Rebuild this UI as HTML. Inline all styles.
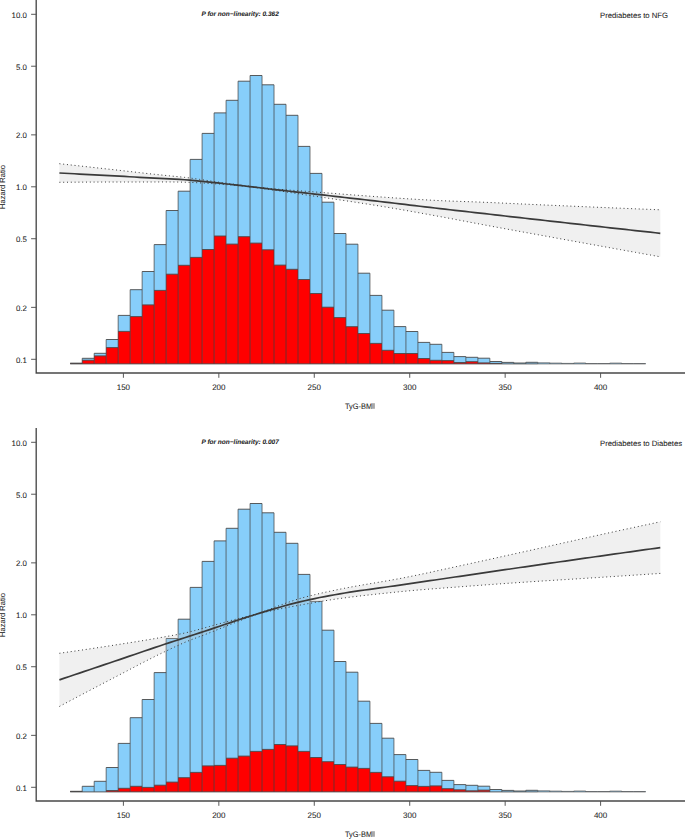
<!DOCTYPE html>
<html><head><meta charset="utf-8"><title>RCS plot</title><style>
html,body{margin:0;padding:0;background:#fff;}
svg{display:block;}
.vs{fill:none;stroke:#3c3c3c;stroke-width:0.7;}
.hs{fill:none;stroke:#4a4a4a;stroke-width:0.9;}
.hs2{fill:none;stroke:#5a5a5a;stroke-width:0.75;}
.bt{stroke:#666;stroke-width:0.7;}
.r{fill:#FF0000;stroke:#505050;stroke-width:0.85;}
.band{fill:#c8c8c8;fill-opacity:0.28;stroke:none;}
.ci{fill:none;stroke:#383838;stroke-width:1;stroke-dasharray:1 2.8;}
.ln{fill:none;stroke:#3a3a3a;stroke-width:1.7;}
.ax{fill:none;stroke:#484848;stroke-width:1.35;}
.tk{stroke:#505050;stroke-width:0.95;}
text{font-family:"Liberation Sans",sans-serif;fill:#1c1c1c;stroke:#1c1c1c;stroke-width:0.06;text-rendering:geometricPrecision;}
.yl{font-size:7.85px;text-anchor:end;}
.xl{font-size:8px;text-anchor:middle;}
.xt{font-size:8px;}
.yt{font-size:7.5px;text-anchor:middle;}
.pt{font-size:6.5px;font-weight:bold;font-style:italic;}
.tt{font-size:7.7px;}
</style></head>
<body><svg width="685" height="839" viewBox="0 0 685 839">
<rect width="685" height="839" fill="#fff"/>
<g transform="translate(0,0)">
<rect x="70.20" y="363.30" width="11.99" height="0.60" fill="#87CEFA"/>
<rect x="82.19" y="358.30" width="11.99" height="5.60" fill="#87CEFA"/>
<rect x="94.18" y="353.30" width="11.99" height="10.60" fill="#87CEFA"/>
<rect x="106.17" y="339.50" width="11.99" height="24.40" fill="#87CEFA"/>
<rect x="118.16" y="315.40" width="11.99" height="48.50" fill="#87CEFA"/>
<rect x="130.15" y="289.70" width="11.99" height="74.20" fill="#87CEFA"/>
<rect x="142.14" y="271.50" width="11.99" height="92.40" fill="#87CEFA"/>
<rect x="154.13" y="244.60" width="11.99" height="119.30" fill="#87CEFA"/>
<rect x="166.12" y="210.50" width="11.99" height="153.40" fill="#87CEFA"/>
<rect x="178.11" y="191.20" width="11.99" height="172.70" fill="#87CEFA"/>
<rect x="190.10" y="159.40" width="11.99" height="204.50" fill="#87CEFA"/>
<rect x="202.09" y="133.40" width="11.99" height="230.50" fill="#87CEFA"/>
<rect x="214.08" y="112.90" width="11.99" height="251.00" fill="#87CEFA"/>
<rect x="226.07" y="100.30" width="11.99" height="263.60" fill="#87CEFA"/>
<rect x="238.06" y="81.20" width="11.99" height="282.70" fill="#87CEFA"/>
<rect x="250.05" y="75.50" width="11.99" height="288.40" fill="#87CEFA"/>
<rect x="262.04" y="84.80" width="11.99" height="279.10" fill="#87CEFA"/>
<rect x="274.03" y="104.30" width="11.99" height="259.60" fill="#87CEFA"/>
<rect x="286.02" y="115.30" width="11.99" height="248.60" fill="#87CEFA"/>
<rect x="298.01" y="146.40" width="11.99" height="217.50" fill="#87CEFA"/>
<rect x="310.00" y="173.40" width="11.99" height="190.50" fill="#87CEFA"/>
<rect x="321.99" y="202.20" width="11.99" height="161.70" fill="#87CEFA"/>
<rect x="333.98" y="233.50" width="11.99" height="130.40" fill="#87CEFA"/>
<rect x="345.97" y="244.20" width="11.99" height="119.70" fill="#87CEFA"/>
<rect x="357.96" y="273.20" width="11.99" height="90.70" fill="#87CEFA"/>
<rect x="369.95" y="295.40" width="11.99" height="68.50" fill="#87CEFA"/>
<rect x="381.94" y="310.20" width="11.99" height="53.70" fill="#87CEFA"/>
<rect x="393.93" y="326.60" width="11.99" height="37.30" fill="#87CEFA"/>
<rect x="405.92" y="331.50" width="11.99" height="32.40" fill="#87CEFA"/>
<rect x="417.91" y="342.40" width="11.99" height="21.50" fill="#87CEFA"/>
<rect x="429.90" y="344.30" width="11.99" height="19.60" fill="#87CEFA"/>
<rect x="441.89" y="352.40" width="11.99" height="11.50" fill="#87CEFA"/>
<rect x="453.88" y="356.60" width="11.99" height="7.30" fill="#87CEFA"/>
<rect x="465.87" y="357.30" width="11.99" height="6.60" fill="#87CEFA"/>
<rect x="477.86" y="358.20" width="11.99" height="5.70" fill="#87CEFA"/>
<rect x="489.85" y="361.50" width="11.99" height="2.40" fill="#87CEFA"/>
<rect x="501.84" y="362.40" width="11.99" height="1.50" fill="#87CEFA"/>
<rect x="513.83" y="363.00" width="11.99" height="0.90" fill="#87CEFA"/>
<rect x="525.82" y="362.30" width="11.99" height="1.60" fill="#87CEFA"/>
<rect x="537.81" y="362.80" width="11.99" height="1.10" fill="#87CEFA"/>
<rect x="549.80" y="363.10" width="11.99" height="0.80" fill="#87CEFA"/>
<rect x="561.79" y="363.40" width="11.99" height="0.50" fill="#87CEFA"/>
<rect x="573.78" y="363.00" width="11.99" height="0.90" fill="#87CEFA"/>
<rect x="585.77" y="363.50" width="11.99" height="0.40" fill="#87CEFA"/>
<rect x="597.76" y="363.50" width="11.99" height="0.40" fill="#87CEFA"/>
<rect x="609.75" y="363.10" width="11.99" height="0.80" fill="#87CEFA"/>
<rect x="621.74" y="363.50" width="11.99" height="0.40" fill="#87CEFA"/>
<rect x="633.73" y="363.50" width="11.99" height="0.40" fill="#87CEFA"/>
<rect x="70.20" y="363.30" width="11.99" height="0.60" fill="#FF0000"/>
<rect x="82.19" y="360.20" width="11.99" height="3.70" fill="#FF0000"/>
<rect x="94.18" y="355.90" width="11.99" height="8.00" fill="#FF0000"/>
<rect x="106.17" y="347.60" width="11.99" height="16.30" fill="#FF0000"/>
<rect x="118.16" y="331.40" width="11.99" height="32.50" fill="#FF0000"/>
<rect x="130.15" y="316.60" width="11.99" height="47.30" fill="#FF0000"/>
<rect x="142.14" y="304.90" width="11.99" height="59.00" fill="#FF0000"/>
<rect x="154.13" y="290.40" width="11.99" height="73.50" fill="#FF0000"/>
<rect x="166.12" y="274.20" width="11.99" height="89.70" fill="#FF0000"/>
<rect x="178.11" y="265.30" width="11.99" height="98.60" fill="#FF0000"/>
<rect x="190.10" y="257.40" width="11.99" height="106.50" fill="#FF0000"/>
<rect x="202.09" y="249.50" width="11.99" height="114.40" fill="#FF0000"/>
<rect x="214.08" y="236.00" width="11.99" height="127.90" fill="#FF0000"/>
<rect x="226.07" y="244.10" width="11.99" height="119.80" fill="#FF0000"/>
<rect x="238.06" y="236.70" width="11.99" height="127.20" fill="#FF0000"/>
<rect x="250.05" y="243.10" width="11.99" height="120.80" fill="#FF0000"/>
<rect x="262.04" y="249.80" width="11.99" height="114.10" fill="#FF0000"/>
<rect x="274.03" y="265.10" width="11.99" height="98.80" fill="#FF0000"/>
<rect x="286.02" y="269.30" width="11.99" height="94.60" fill="#FF0000"/>
<rect x="298.01" y="279.50" width="11.99" height="84.40" fill="#FF0000"/>
<rect x="310.00" y="293.50" width="11.99" height="70.40" fill="#FF0000"/>
<rect x="321.99" y="307.20" width="11.99" height="56.70" fill="#FF0000"/>
<rect x="333.98" y="317.60" width="11.99" height="46.30" fill="#FF0000"/>
<rect x="345.97" y="326.70" width="11.99" height="37.20" fill="#FF0000"/>
<rect x="357.96" y="333.50" width="11.99" height="30.40" fill="#FF0000"/>
<rect x="369.95" y="343.40" width="11.99" height="20.50" fill="#FF0000"/>
<rect x="381.94" y="350.30" width="11.99" height="13.60" fill="#FF0000"/>
<rect x="393.93" y="353.50" width="11.99" height="10.40" fill="#FF0000"/>
<rect x="405.92" y="353.50" width="11.99" height="10.40" fill="#FF0000"/>
<rect x="417.91" y="358.50" width="11.99" height="5.40" fill="#FF0000"/>
<rect x="429.90" y="360.30" width="11.99" height="3.60" fill="#FF0000"/>
<rect x="441.89" y="360.60" width="11.99" height="3.30" fill="#FF0000"/>
<rect x="453.88" y="362.50" width="11.99" height="1.40" fill="#FF0000"/>
<rect x="465.87" y="361.70" width="11.99" height="2.20" fill="#FF0000"/>
<rect x="477.86" y="362.90" width="11.99" height="1.00" fill="#FF0000"/>
<rect x="489.85" y="363.40" width="11.99" height="0.50" fill="#FF0000"/>
<path d="M82.19,363.90V358.30M94.18,363.90V353.30M106.17,363.90V339.50M118.16,363.90V315.40M130.15,363.90V289.70M142.14,363.90V271.50M154.13,363.90V244.60M166.12,363.90V210.50M178.11,363.90V191.20M190.10,363.90V159.40M202.09,363.90V133.40M214.08,363.90V112.90M226.07,363.90V100.30M238.06,363.90V81.20M250.05,363.90V75.50M262.04,363.90V75.50M274.03,363.90V84.80M286.02,363.90V104.30M298.01,363.90V115.30M310.00,363.90V146.40M321.99,363.90V173.40M333.98,363.90V202.20M345.97,363.90V233.50M357.96,363.90V244.20M369.95,363.90V273.20M381.94,363.90V295.40M393.93,363.90V310.20M405.92,363.90V326.60M417.91,363.90V331.50M429.90,363.90V342.40M441.89,363.90V344.30M453.88,363.90V352.40M465.87,363.90V356.60M477.86,363.90V357.30M489.85,363.90V358.20M501.84,363.90V361.50M513.83,363.90V362.40M525.82,363.90V362.30M537.81,363.90V362.30M549.80,363.90V362.80M561.79,363.90V363.10M573.78,363.90V363.00M585.77,363.90V363.00M609.75,363.90V363.10M621.74,363.90V363.10" class="vs"/>
<path d="M70.20,363.30H82.19M70.20,363.30H82.19M82.19,358.30H94.18M82.19,360.20H94.18M94.18,353.30H106.17M94.18,355.90H106.17M106.17,339.50H118.16M106.17,347.60H118.16M118.16,315.40H130.15M118.16,331.40H130.15M130.15,289.70H142.14M130.15,316.60H142.14M142.14,271.50H154.13M142.14,304.90H154.13M154.13,244.60H166.12M154.13,290.40H166.12M166.12,210.50H178.11M166.12,274.20H178.11M178.11,191.20H190.10M178.11,265.30H190.10M190.10,159.40H202.09M190.10,257.40H202.09M202.09,133.40H214.08M202.09,249.50H214.08M214.08,112.90H226.07M214.08,236.00H226.07M226.07,100.30H238.06M226.07,244.10H238.06M238.06,81.20H250.05M238.06,236.70H250.05M250.05,75.50H262.04M250.05,243.10H262.04M262.04,84.80H274.03M262.04,249.80H274.03M274.03,104.30H286.02M274.03,265.10H286.02M286.02,115.30H298.01M286.02,269.30H298.01M298.01,146.40H310.00M298.01,279.50H310.00M310.00,173.40H321.99M310.00,293.50H321.99M321.99,202.20H333.98M321.99,307.20H333.98M333.98,233.50H345.97M333.98,317.60H345.97M345.97,244.20H357.96M345.97,326.70H357.96M357.96,273.20H369.95M357.96,333.50H369.95M369.95,295.40H381.94M369.95,343.40H381.94M381.94,310.20H393.93M381.94,350.30H393.93M393.93,326.60H405.92M393.93,353.50H405.92M405.92,331.50H417.91M405.92,353.50H417.91M417.91,342.40H429.90M417.91,358.50H429.90M429.90,344.30H441.89M429.90,360.30H441.89M441.89,352.40H453.88M441.89,360.60H453.88M453.88,356.60H465.87M453.88,362.50H465.87M465.87,357.30H477.86M465.87,361.70H477.86M477.86,358.20H489.85M477.86,362.90H489.85M489.85,361.50H501.84M489.85,363.40H501.84M501.84,362.40H513.83M513.83,363.00H525.82M525.82,362.30H537.81M70.20,363.90H537.81" class="hs"/>
<path d="M537.81,362.80H549.80M549.80,363.10H561.79M561.79,363.40H573.78M573.78,363.00H585.77M585.77,363.50H597.76M597.76,363.50H609.75M609.75,363.10H621.74M621.74,363.50H633.73M633.73,363.50H645.72M537.81,363.90H645.72" class="hs2"/>
<polygon points="59.40,163.70 64.41,164.25 69.41,164.81 74.42,165.36 79.43,165.91 84.44,166.47 89.44,167.02 94.45,167.58 99.46,168.13 104.47,168.68 109.47,169.24 114.48,169.79 119.49,170.34 124.50,170.90 129.50,171.47 134.51,172.04 139.52,172.62 144.53,173.19 149.53,173.76 154.54,174.30 159.55,174.82 164.56,175.33 169.56,175.82 174.57,176.32 179.58,176.83 184.59,177.36 189.59,177.97 194.60,178.65 199.61,179.38 204.62,180.12 209.62,180.85 214.63,181.57 219.64,182.28 224.65,182.98 229.65,183.68 234.66,184.35 239.67,185.01 244.68,185.65 249.68,186.26 254.69,186.85 259.70,187.41 264.71,187.94 269.71,188.43 274.72,188.89 279.73,189.32 284.74,189.72 289.74,190.11 294.75,190.49 299.76,190.85 304.77,191.22 309.77,191.58 314.78,191.96 319.79,192.34 324.80,192.74 329.80,193.14 334.81,193.53 339.82,193.92 344.83,194.31 349.83,194.69 354.84,195.07 359.85,195.45 364.86,195.82 369.86,196.19 374.87,196.55 379.88,196.91 384.89,197.26 389.89,197.61 394.90,197.95 399.91,198.28 404.92,198.61 409.92,198.93 414.93,199.24 419.94,199.54 424.95,199.83 429.95,200.11 434.96,200.37 439.97,200.63 444.98,200.85 449.98,201.05 454.99,201.23 460.00,201.40 465.01,201.57 470.01,201.73 475.02,201.91 480.03,202.10 485.04,202.30 490.04,202.52 495.05,202.74 500.06,202.97 505.07,203.20 510.07,203.43 515.08,203.66 520.09,203.90 525.10,204.13 530.10,204.36 535.11,204.58 540.12,204.80 545.13,205.02 550.13,205.24 555.14,205.45 560.15,205.67 565.16,205.88 570.16,206.10 575.17,206.31 580.18,206.53 585.19,206.74 590.19,206.95 595.20,207.16 600.21,207.37 605.22,207.58 610.22,207.78 615.23,207.99 620.24,208.20 625.25,208.40 630.25,208.60 635.26,208.81 640.27,209.01 645.28,209.21 650.28,209.41 655.29,209.60 660.30,209.80 660.30,256.80 655.29,255.91 650.28,255.01 645.28,254.11 640.27,253.22 635.26,252.32 630.25,251.42 625.25,250.52 620.24,249.62 615.23,248.72 610.22,247.81 605.22,246.91 600.21,246.01 595.20,245.10 590.19,244.20 585.19,243.29 580.18,242.39 575.17,241.48 570.16,240.57 565.16,239.67 560.15,238.76 555.14,237.85 550.13,236.94 545.13,236.03 540.12,235.12 535.11,234.21 530.10,233.30 525.10,232.39 520.09,231.48 515.08,230.57 510.07,229.65 505.07,228.74 500.06,227.82 495.05,226.90 490.04,225.98 485.04,225.05 480.03,224.12 475.02,223.18 470.01,222.23 465.01,221.28 460.00,220.32 454.99,219.37 449.98,218.42 444.98,217.49 439.97,216.57 434.96,215.66 429.95,214.76 424.95,213.85 419.94,212.95 414.93,212.05 409.92,211.16 404.92,210.28 399.91,209.41 394.90,208.55 389.89,207.70 384.89,206.87 379.88,206.06 374.87,205.26 369.86,204.47 364.86,203.69 359.85,202.91 354.84,202.15 349.83,201.39 344.83,200.63 339.82,199.89 334.81,199.14 329.80,198.41 324.80,197.67 319.79,196.94 314.78,196.19 309.77,195.45 304.77,194.70 299.76,193.95 294.75,193.19 289.74,192.45 284.74,191.71 279.73,190.97 274.72,190.25 269.71,189.53 264.71,188.82 259.70,188.14 254.69,187.48 249.68,186.86 244.68,186.29 239.67,185.77 234.66,185.30 229.65,184.87 224.65,184.48 219.64,184.11 214.63,183.78 209.62,183.47 204.62,183.17 199.61,182.86 194.60,182.58 189.59,182.35 184.59,182.18 179.58,182.06 174.57,181.99 169.56,181.95 164.56,181.95 159.55,181.96 154.54,181.98 149.53,181.99 144.53,181.99 139.52,181.99 134.51,182.00 129.50,182.00 124.50,182.00 119.49,182.00 114.48,182.01 109.47,182.01 104.47,182.03 99.46,182.04 94.45,182.06 89.44,182.08 84.44,182.11 79.43,182.14 74.42,182.17 69.41,182.21 64.41,182.25 59.40,182.30" class="band"/>
<polyline points="59.40,163.70 64.41,164.25 69.41,164.81 74.42,165.36 79.43,165.91 84.44,166.47 89.44,167.02 94.45,167.58 99.46,168.13 104.47,168.68 109.47,169.24 114.48,169.79 119.49,170.34 124.50,170.90 129.50,171.47 134.51,172.04 139.52,172.62 144.53,173.19 149.53,173.76 154.54,174.30 159.55,174.82 164.56,175.33 169.56,175.82 174.57,176.32 179.58,176.83 184.59,177.36 189.59,177.97 194.60,178.65 199.61,179.38 204.62,180.12 209.62,180.85 214.63,181.57 219.64,182.28 224.65,182.98 229.65,183.68 234.66,184.35 239.67,185.01 244.68,185.65 249.68,186.26 254.69,186.85 259.70,187.41 264.71,187.94 269.71,188.43 274.72,188.89 279.73,189.32 284.74,189.72 289.74,190.11 294.75,190.49 299.76,190.85 304.77,191.22 309.77,191.58 314.78,191.96 319.79,192.34 324.80,192.74 329.80,193.14 334.81,193.53 339.82,193.92 344.83,194.31 349.83,194.69 354.84,195.07 359.85,195.45 364.86,195.82 369.86,196.19 374.87,196.55 379.88,196.91 384.89,197.26 389.89,197.61 394.90,197.95 399.91,198.28 404.92,198.61 409.92,198.93 414.93,199.24 419.94,199.54 424.95,199.83 429.95,200.11 434.96,200.37 439.97,200.63 444.98,200.85 449.98,201.05 454.99,201.23 460.00,201.40 465.01,201.57 470.01,201.73 475.02,201.91 480.03,202.10 485.04,202.30 490.04,202.52 495.05,202.74 500.06,202.97 505.07,203.20 510.07,203.43 515.08,203.66 520.09,203.90 525.10,204.13 530.10,204.36 535.11,204.58 540.12,204.80 545.13,205.02 550.13,205.24 555.14,205.45 560.15,205.67 565.16,205.88 570.16,206.10 575.17,206.31 580.18,206.53 585.19,206.74 590.19,206.95 595.20,207.16 600.21,207.37 605.22,207.58 610.22,207.78 615.23,207.99 620.24,208.20 625.25,208.40 630.25,208.60 635.26,208.81 640.27,209.01 645.28,209.21 650.28,209.41 655.29,209.60 660.30,209.80" class="ci"/>
<polyline points="59.40,182.30 64.41,182.25 69.41,182.21 74.42,182.17 79.43,182.14 84.44,182.11 89.44,182.08 94.45,182.06 99.46,182.04 104.47,182.03 109.47,182.01 114.48,182.01 119.49,182.00 124.50,182.00 129.50,182.00 134.51,182.00 139.52,181.99 144.53,181.99 149.53,181.99 154.54,181.98 159.55,181.96 164.56,181.95 169.56,181.95 174.57,181.99 179.58,182.06 184.59,182.18 189.59,182.35 194.60,182.58 199.61,182.86 204.62,183.17 209.62,183.47 214.63,183.78 219.64,184.11 224.65,184.48 229.65,184.87 234.66,185.30 239.67,185.77 244.68,186.29 249.68,186.86 254.69,187.48 259.70,188.14 264.71,188.82 269.71,189.53 274.72,190.25 279.73,190.97 284.74,191.71 289.74,192.45 294.75,193.19 299.76,193.95 304.77,194.70 309.77,195.45 314.78,196.19 319.79,196.94 324.80,197.67 329.80,198.41 334.81,199.14 339.82,199.89 344.83,200.63 349.83,201.39 354.84,202.15 359.85,202.91 364.86,203.69 369.86,204.47 374.87,205.26 379.88,206.06 384.89,206.87 389.89,207.70 394.90,208.55 399.91,209.41 404.92,210.28 409.92,211.16 414.93,212.05 419.94,212.95 424.95,213.85 429.95,214.76 434.96,215.66 439.97,216.57 444.98,217.49 449.98,218.42 454.99,219.37 460.00,220.32 465.01,221.28 470.01,222.23 475.02,223.18 480.03,224.12 485.04,225.05 490.04,225.98 495.05,226.90 500.06,227.82 505.07,228.74 510.07,229.65 515.08,230.57 520.09,231.48 525.10,232.39 530.10,233.30 535.11,234.21 540.12,235.12 545.13,236.03 550.13,236.94 555.14,237.85 560.15,238.76 565.16,239.67 570.16,240.57 575.17,241.48 580.18,242.39 585.19,243.29 590.19,244.20 595.20,245.10 600.21,246.01 605.22,246.91 610.22,247.81 615.23,248.72 620.24,249.62 625.25,250.52 630.25,251.42 635.26,252.32 640.27,253.22 645.28,254.11 650.28,255.01 655.29,255.91 660.30,256.80" class="ci"/>
<polyline points="59.40,173.00 64.41,173.25 69.41,173.51 74.42,173.77 79.43,174.03 84.44,174.29 89.44,174.55 94.45,174.82 99.46,175.08 104.47,175.35 109.47,175.63 114.48,175.90 119.49,176.17 124.50,176.45 129.50,176.73 134.51,177.02 139.52,177.31 144.53,177.59 149.53,177.87 154.54,178.14 159.55,178.39 164.56,178.64 169.56,178.89 174.57,179.15 179.58,179.44 184.59,179.77 189.59,180.16 194.60,180.62 199.61,181.12 204.62,181.64 209.62,182.16 214.63,182.67 219.64,183.20 224.65,183.73 229.65,184.27 234.66,184.83 239.67,185.39 244.68,185.97 249.68,186.56 254.69,187.17 259.70,187.77 264.71,188.38 269.71,188.98 274.72,189.57 279.73,190.14 284.74,190.71 289.74,191.28 294.75,191.84 299.76,192.40 304.77,192.96 309.77,193.52 314.78,194.08 319.79,194.64 324.80,195.20 329.80,195.77 334.81,196.34 339.82,196.90 344.83,197.47 349.83,198.04 354.84,198.61 359.85,199.18 364.86,199.75 369.86,200.33 374.87,200.90 379.88,201.48 384.89,202.07 389.89,202.66 394.90,203.25 399.91,203.85 404.92,204.45 409.92,205.05 414.93,205.65 419.94,206.25 424.95,206.84 429.95,207.43 434.96,208.02 439.97,208.60 444.98,209.17 449.98,209.74 454.99,210.30 460.00,210.86 465.01,211.42 470.01,211.98 475.02,212.54 480.03,213.11 485.04,213.68 490.04,214.25 495.05,214.82 500.06,215.39 505.07,215.97 510.07,216.54 515.08,217.11 520.09,217.69 525.10,218.26 530.10,218.83 535.11,219.40 540.12,219.96 545.13,220.53 550.13,221.09 555.14,221.65 560.15,222.21 565.16,222.78 570.16,223.34 575.17,223.90 580.18,224.46 585.19,225.02 590.19,225.57 595.20,226.13 600.21,226.69 605.22,227.24 610.22,227.80 615.23,228.35 620.24,228.91 625.25,229.46 630.25,230.01 635.26,230.56 640.27,231.11 645.28,231.66 650.28,232.21 655.29,232.75 660.30,233.30" class="ln"/>
<path d="M36.2,0.0 V373.0 H685" class="ax"/>
<line x1="31.1" x2="36.2" y1="14.30" y2="14.30" class="tk"/>
<text x="26.8" y="17.70" class="yl">10.0</text>
<line x1="31.1" x2="36.2" y1="66.23" y2="66.23" class="tk"/>
<text x="26.8" y="69.63" class="yl">5.0</text>
<line x1="31.1" x2="36.2" y1="134.87" y2="134.87" class="tk"/>
<text x="26.8" y="138.27" class="yl">2.0</text>
<line x1="31.1" x2="36.2" y1="186.80" y2="186.80" class="tk"/>
<text x="26.8" y="190.20" class="yl">1.0</text>
<line x1="31.1" x2="36.2" y1="238.73" y2="238.73" class="tk"/>
<text x="26.8" y="242.13" class="yl">0.5</text>
<line x1="31.1" x2="36.2" y1="307.37" y2="307.37" class="tk"/>
<text x="26.8" y="310.77" class="yl">0.2</text>
<line x1="31.1" x2="36.2" y1="359.30" y2="359.30" class="tk"/>
<text x="26.8" y="362.70" class="yl">0.1</text>
<line x1="123.40" x2="123.40" y1="373.0" y2="377.8" class="tk"/>
<text x="123.40" y="389.9" class="xl">150</text>
<line x1="218.84" x2="218.84" y1="373.0" y2="377.8" class="tk"/>
<text x="218.84" y="389.9" class="xl">200</text>
<line x1="314.28" x2="314.28" y1="373.0" y2="377.8" class="tk"/>
<text x="314.28" y="389.9" class="xl">250</text>
<line x1="409.72" x2="409.72" y1="373.0" y2="377.8" class="tk"/>
<text x="409.72" y="389.9" class="xl">300</text>
<line x1="505.16" x2="505.16" y1="373.0" y2="377.8" class="tk"/>
<text x="505.16" y="389.9" class="xl">350</text>
<line x1="600.60" x2="600.60" y1="373.0" y2="377.8" class="tk"/>
<text x="600.60" y="389.9" class="xl">400</text>
<text x="345.0" y="408.8" class="xt" textLength="27.2" lengthAdjust="spacingAndGlyphs">TyG-BM</text>
<rect x="371.5" y="403.2" width="3.4" height="5.6" fill="#a8a8a8"/>
<text transform="translate(5.45,187) rotate(-90)" class="yt">Hazard Ratio</text>
<text x="201.5" y="16.2" class="pt">P for non&#8722;linearity: 0.362</text>
<text x="600.0" y="17.8" class="tt">Prediabetes to NFG</text>
</g>
<g transform="translate(0,428.0)">
<rect x="70.20" y="363.30" width="11.99" height="0.60" fill="#87CEFA"/>
<rect x="82.19" y="358.30" width="11.99" height="5.60" fill="#87CEFA"/>
<rect x="94.18" y="353.30" width="11.99" height="10.60" fill="#87CEFA"/>
<rect x="106.17" y="339.50" width="11.99" height="24.40" fill="#87CEFA"/>
<rect x="118.16" y="315.40" width="11.99" height="48.50" fill="#87CEFA"/>
<rect x="130.15" y="289.70" width="11.99" height="74.20" fill="#87CEFA"/>
<rect x="142.14" y="271.50" width="11.99" height="92.40" fill="#87CEFA"/>
<rect x="154.13" y="244.60" width="11.99" height="119.30" fill="#87CEFA"/>
<rect x="166.12" y="210.50" width="11.99" height="153.40" fill="#87CEFA"/>
<rect x="178.11" y="191.20" width="11.99" height="172.70" fill="#87CEFA"/>
<rect x="190.10" y="159.40" width="11.99" height="204.50" fill="#87CEFA"/>
<rect x="202.09" y="133.40" width="11.99" height="230.50" fill="#87CEFA"/>
<rect x="214.08" y="112.90" width="11.99" height="251.00" fill="#87CEFA"/>
<rect x="226.07" y="100.30" width="11.99" height="263.60" fill="#87CEFA"/>
<rect x="238.06" y="81.20" width="11.99" height="282.70" fill="#87CEFA"/>
<rect x="250.05" y="75.50" width="11.99" height="288.40" fill="#87CEFA"/>
<rect x="262.04" y="84.80" width="11.99" height="279.10" fill="#87CEFA"/>
<rect x="274.03" y="104.30" width="11.99" height="259.60" fill="#87CEFA"/>
<rect x="286.02" y="115.30" width="11.99" height="248.60" fill="#87CEFA"/>
<rect x="298.01" y="146.40" width="11.99" height="217.50" fill="#87CEFA"/>
<rect x="310.00" y="173.40" width="11.99" height="190.50" fill="#87CEFA"/>
<rect x="321.99" y="202.20" width="11.99" height="161.70" fill="#87CEFA"/>
<rect x="333.98" y="233.50" width="11.99" height="130.40" fill="#87CEFA"/>
<rect x="345.97" y="244.20" width="11.99" height="119.70" fill="#87CEFA"/>
<rect x="357.96" y="273.20" width="11.99" height="90.70" fill="#87CEFA"/>
<rect x="369.95" y="295.40" width="11.99" height="68.50" fill="#87CEFA"/>
<rect x="381.94" y="310.20" width="11.99" height="53.70" fill="#87CEFA"/>
<rect x="393.93" y="326.60" width="11.99" height="37.30" fill="#87CEFA"/>
<rect x="405.92" y="331.50" width="11.99" height="32.40" fill="#87CEFA"/>
<rect x="417.91" y="342.40" width="11.99" height="21.50" fill="#87CEFA"/>
<rect x="429.90" y="344.30" width="11.99" height="19.60" fill="#87CEFA"/>
<rect x="441.89" y="352.40" width="11.99" height="11.50" fill="#87CEFA"/>
<rect x="453.88" y="356.60" width="11.99" height="7.30" fill="#87CEFA"/>
<rect x="465.87" y="357.30" width="11.99" height="6.60" fill="#87CEFA"/>
<rect x="477.86" y="358.20" width="11.99" height="5.70" fill="#87CEFA"/>
<rect x="489.85" y="361.50" width="11.99" height="2.40" fill="#87CEFA"/>
<rect x="501.84" y="362.40" width="11.99" height="1.50" fill="#87CEFA"/>
<rect x="513.83" y="363.00" width="11.99" height="0.90" fill="#87CEFA"/>
<rect x="525.82" y="362.30" width="11.99" height="1.60" fill="#87CEFA"/>
<rect x="537.81" y="362.80" width="11.99" height="1.10" fill="#87CEFA"/>
<rect x="549.80" y="363.10" width="11.99" height="0.80" fill="#87CEFA"/>
<rect x="561.79" y="363.40" width="11.99" height="0.50" fill="#87CEFA"/>
<rect x="573.78" y="363.00" width="11.99" height="0.90" fill="#87CEFA"/>
<rect x="585.77" y="363.50" width="11.99" height="0.40" fill="#87CEFA"/>
<rect x="597.76" y="363.50" width="11.99" height="0.40" fill="#87CEFA"/>
<rect x="609.75" y="363.10" width="11.99" height="0.80" fill="#87CEFA"/>
<rect x="621.74" y="363.50" width="11.99" height="0.40" fill="#87CEFA"/>
<rect x="633.73" y="363.50" width="11.99" height="0.40" fill="#87CEFA"/>
<rect x="70.20" y="363.50" width="11.99" height="0.40" fill="#FF0000"/>
<rect x="106.17" y="362.50" width="11.99" height="1.40" fill="#FF0000"/>
<rect x="118.16" y="360.30" width="11.99" height="3.60" fill="#FF0000"/>
<rect x="130.15" y="358.30" width="11.99" height="5.60" fill="#FF0000"/>
<rect x="142.14" y="359.40" width="11.99" height="4.50" fill="#FF0000"/>
<rect x="154.13" y="357.20" width="11.99" height="6.70" fill="#FF0000"/>
<rect x="166.12" y="354.10" width="11.99" height="9.80" fill="#FF0000"/>
<rect x="178.11" y="349.70" width="11.99" height="14.20" fill="#FF0000"/>
<rect x="190.10" y="344.40" width="11.99" height="19.50" fill="#FF0000"/>
<rect x="202.09" y="337.90" width="11.99" height="26.00" fill="#FF0000"/>
<rect x="214.08" y="337.40" width="11.99" height="26.50" fill="#FF0000"/>
<rect x="226.07" y="330.20" width="11.99" height="33.70" fill="#FF0000"/>
<rect x="238.06" y="328.10" width="11.99" height="35.80" fill="#FF0000"/>
<rect x="250.05" y="323.40" width="11.99" height="40.50" fill="#FF0000"/>
<rect x="262.04" y="321.40" width="11.99" height="42.50" fill="#FF0000"/>
<rect x="274.03" y="316.50" width="11.99" height="47.40" fill="#FF0000"/>
<rect x="286.02" y="317.90" width="11.99" height="46.00" fill="#FF0000"/>
<rect x="298.01" y="323.40" width="11.99" height="40.50" fill="#FF0000"/>
<rect x="310.00" y="329.50" width="11.99" height="34.40" fill="#FF0000"/>
<rect x="321.99" y="333.70" width="11.99" height="30.20" fill="#FF0000"/>
<rect x="333.98" y="336.50" width="11.99" height="27.40" fill="#FF0000"/>
<rect x="345.97" y="339.10" width="11.99" height="24.80" fill="#FF0000"/>
<rect x="357.96" y="340.40" width="11.99" height="23.50" fill="#FF0000"/>
<rect x="369.95" y="344.40" width="11.99" height="19.50" fill="#FF0000"/>
<rect x="381.94" y="348.80" width="11.99" height="15.10" fill="#FF0000"/>
<rect x="393.93" y="353.20" width="11.99" height="10.70" fill="#FF0000"/>
<rect x="405.92" y="357.60" width="11.99" height="6.30" fill="#FF0000"/>
<rect x="417.91" y="358.40" width="11.99" height="5.50" fill="#FF0000"/>
<rect x="429.90" y="357.90" width="11.99" height="6.00" fill="#FF0000"/>
<rect x="441.89" y="360.70" width="11.99" height="3.20" fill="#FF0000"/>
<rect x="453.88" y="361.80" width="11.99" height="2.10" fill="#FF0000"/>
<rect x="465.87" y="362.80" width="11.99" height="1.10" fill="#FF0000"/>
<rect x="477.86" y="362.10" width="11.99" height="1.80" fill="#FF0000"/>
<path d="M82.19,363.90V358.30M94.18,363.90V353.30M106.17,363.90V339.50M118.16,363.90V315.40M130.15,363.90V289.70M142.14,363.90V271.50M154.13,363.90V244.60M166.12,363.90V210.50M178.11,363.90V191.20M190.10,363.90V159.40M202.09,363.90V133.40M214.08,363.90V112.90M226.07,363.90V100.30M238.06,363.90V81.20M250.05,363.90V75.50M262.04,363.90V75.50M274.03,363.90V84.80M286.02,363.90V104.30M298.01,363.90V115.30M310.00,363.90V146.40M321.99,363.90V173.40M333.98,363.90V202.20M345.97,363.90V233.50M357.96,363.90V244.20M369.95,363.90V273.20M381.94,363.90V295.40M393.93,363.90V310.20M405.92,363.90V326.60M417.91,363.90V331.50M429.90,363.90V342.40M441.89,363.90V344.30M453.88,363.90V352.40M465.87,363.90V356.60M477.86,363.90V357.30M489.85,363.90V358.20M501.84,363.90V361.50M513.83,363.90V362.40M525.82,363.90V362.30M537.81,363.90V362.30M549.80,363.90V362.80M561.79,363.90V363.10M573.78,363.90V363.00M585.77,363.90V363.00M609.75,363.90V363.10M621.74,363.90V363.10" class="vs"/>
<path d="M70.20,363.30H82.19M70.20,363.50H82.19M82.19,358.30H94.18M94.18,353.30H106.17M106.17,339.50H118.16M106.17,362.50H118.16M118.16,315.40H130.15M118.16,360.30H130.15M130.15,289.70H142.14M130.15,358.30H142.14M142.14,271.50H154.13M142.14,359.40H154.13M154.13,244.60H166.12M154.13,357.20H166.12M166.12,210.50H178.11M166.12,354.10H178.11M178.11,191.20H190.10M178.11,349.70H190.10M190.10,159.40H202.09M190.10,344.40H202.09M202.09,133.40H214.08M202.09,337.90H214.08M214.08,112.90H226.07M214.08,337.40H226.07M226.07,100.30H238.06M226.07,330.20H238.06M238.06,81.20H250.05M238.06,328.10H250.05M250.05,75.50H262.04M250.05,323.40H262.04M262.04,84.80H274.03M262.04,321.40H274.03M274.03,104.30H286.02M274.03,316.50H286.02M286.02,115.30H298.01M286.02,317.90H298.01M298.01,146.40H310.00M298.01,323.40H310.00M310.00,173.40H321.99M310.00,329.50H321.99M321.99,202.20H333.98M321.99,333.70H333.98M333.98,233.50H345.97M333.98,336.50H345.97M345.97,244.20H357.96M345.97,339.10H357.96M357.96,273.20H369.95M357.96,340.40H369.95M369.95,295.40H381.94M369.95,344.40H381.94M381.94,310.20H393.93M381.94,348.80H393.93M393.93,326.60H405.92M393.93,353.20H405.92M405.92,331.50H417.91M405.92,357.60H417.91M417.91,342.40H429.90M417.91,358.40H429.90M429.90,344.30H441.89M429.90,357.90H441.89M441.89,352.40H453.88M441.89,360.70H453.88M453.88,356.60H465.87M453.88,361.80H465.87M465.87,357.30H477.86M465.87,362.80H477.86M477.86,358.20H489.85M477.86,362.10H489.85M489.85,361.50H501.84M501.84,362.40H513.83M513.83,363.00H525.82M525.82,362.30H537.81M70.20,363.90H537.81" class="hs"/>
<path d="M537.81,362.80H549.80M549.80,363.10H561.79M561.79,363.40H573.78M573.78,363.00H585.77M585.77,363.50H597.76M597.76,363.50H609.75M609.75,363.10H621.74M621.74,363.50H633.73M633.73,363.50H645.72M537.81,363.90H645.72" class="hs2"/>
<polygon points="59.40,225.27 64.41,224.56 69.41,223.85 74.42,223.13 79.43,222.41 84.44,221.67 89.44,220.93 94.45,220.18 99.46,219.42 104.47,218.66 109.47,217.88 114.48,217.10 119.49,216.31 124.50,215.52 129.50,214.74 134.51,213.95 139.52,213.15 144.53,212.34 149.53,211.51 154.54,210.65 159.55,209.77 164.56,208.85 169.56,207.94 174.57,207.03 179.58,206.09 184.59,205.06 189.59,203.90 194.60,202.62 199.61,201.26 204.62,199.86 209.62,198.47 214.63,197.07 219.64,195.67 224.65,194.27 229.65,192.88 234.66,191.52 239.67,190.24 244.68,189.01 249.68,187.74 254.69,186.37 259.70,184.86 264.71,183.15 269.71,181.26 274.72,179.32 279.73,177.43 284.74,175.60 289.74,173.80 294.75,172.10 299.76,170.57 304.77,169.19 309.77,167.89 314.78,166.65 319.79,165.48 324.80,164.35 329.80,163.27 334.81,162.22 339.82,161.19 344.83,160.19 349.83,159.24 354.84,158.32 359.85,157.44 364.86,156.58 369.86,155.73 374.87,154.89 379.88,154.05 384.89,153.20 389.89,152.33 394.90,151.44 399.91,150.52 404.92,149.56 409.92,148.56 414.93,147.54 419.94,146.50 424.95,145.44 429.95,144.36 434.96,143.27 439.97,142.18 444.98,141.08 449.98,139.98 454.99,138.88 460.00,137.80 465.01,136.72 470.01,135.63 475.02,134.54 480.03,133.44 485.04,132.35 490.04,131.24 495.05,130.14 500.06,129.03 505.07,127.92 510.07,126.81 515.08,125.70 520.09,124.59 525.10,123.48 530.10,122.38 535.11,121.27 540.12,120.15 545.13,119.03 550.13,117.91 555.14,116.79 560.15,115.66 565.16,114.54 570.16,113.42 575.17,112.30 580.18,111.18 585.19,110.07 590.19,108.96 595.20,107.85 600.21,106.76 605.22,105.66 610.22,104.57 615.23,103.48 620.24,102.39 625.25,101.31 630.25,100.23 635.26,99.15 640.27,98.07 645.28,97.00 650.28,95.93 655.29,94.86 660.30,93.80 660.30,145.40 655.29,145.74 650.28,146.07 645.28,146.40 640.27,146.73 635.26,147.07 630.25,147.40 625.25,147.73 620.24,148.06 615.23,148.38 610.22,148.71 605.22,149.04 600.21,149.36 595.20,149.69 590.19,150.01 585.19,150.32 580.18,150.64 575.17,150.95 570.16,151.26 565.16,151.57 560.15,151.88 555.14,152.19 550.13,152.50 545.13,152.82 540.12,153.14 535.11,153.46 530.10,153.79 525.10,154.13 520.09,154.47 515.08,154.81 510.07,155.15 505.07,155.50 500.06,155.85 495.05,156.21 490.04,156.57 485.04,156.93 480.03,157.29 475.02,157.66 470.01,158.04 465.01,158.42 460.00,158.80 454.99,159.18 449.98,159.56 444.98,159.93 439.97,160.30 434.96,160.68 429.95,161.06 424.95,161.46 419.94,161.86 414.93,162.29 409.92,162.74 404.92,163.21 399.91,163.71 394.90,164.22 389.89,164.74 384.89,165.25 379.88,165.77 374.87,166.30 369.86,166.85 364.86,167.40 359.85,167.98 354.84,168.57 349.83,169.19 344.83,169.84 339.82,170.51 334.81,171.23 329.80,171.98 324.80,172.77 319.79,173.60 314.78,174.45 309.77,175.33 304.77,176.23 299.76,177.14 294.75,178.06 289.74,178.97 284.74,179.94 279.73,180.99 274.72,182.05 269.71,183.09 264.71,184.21 259.70,185.50 254.69,187.07 249.68,188.85 244.68,190.78 239.67,192.77 234.66,194.78 229.65,196.75 224.65,198.74 219.64,200.75 214.63,202.75 209.62,204.74 204.62,206.70 199.61,208.60 194.60,210.44 189.59,212.36 184.59,214.44 179.58,216.67 174.57,218.99 169.56,221.38 164.56,223.78 159.55,226.20 154.54,228.67 149.53,231.20 144.53,233.76 139.52,236.35 134.51,238.97 129.50,241.60 124.50,244.23 119.49,246.85 114.48,249.47 109.47,252.07 104.47,254.68 99.46,257.30 94.45,259.93 89.44,262.56 84.44,265.19 79.43,267.83 74.42,270.48 69.41,273.14 64.41,275.80 59.40,278.47" class="band"/>
<polyline points="59.40,225.27 64.41,224.56 69.41,223.85 74.42,223.13 79.43,222.41 84.44,221.67 89.44,220.93 94.45,220.18 99.46,219.42 104.47,218.66 109.47,217.88 114.48,217.10 119.49,216.31 124.50,215.52 129.50,214.74 134.51,213.95 139.52,213.15 144.53,212.34 149.53,211.51 154.54,210.65 159.55,209.77 164.56,208.85 169.56,207.94 174.57,207.03 179.58,206.09 184.59,205.06 189.59,203.90 194.60,202.62 199.61,201.26 204.62,199.86 209.62,198.47 214.63,197.07 219.64,195.67 224.65,194.27 229.65,192.88 234.66,191.52 239.67,190.24 244.68,189.01 249.68,187.74 254.69,186.37 259.70,184.86 264.71,183.15 269.71,181.26 274.72,179.32 279.73,177.43 284.74,175.60 289.74,173.80 294.75,172.10 299.76,170.57 304.77,169.19 309.77,167.89 314.78,166.65 319.79,165.48 324.80,164.35 329.80,163.27 334.81,162.22 339.82,161.19 344.83,160.19 349.83,159.24 354.84,158.32 359.85,157.44 364.86,156.58 369.86,155.73 374.87,154.89 379.88,154.05 384.89,153.20 389.89,152.33 394.90,151.44 399.91,150.52 404.92,149.56 409.92,148.56 414.93,147.54 419.94,146.50 424.95,145.44 429.95,144.36 434.96,143.27 439.97,142.18 444.98,141.08 449.98,139.98 454.99,138.88 460.00,137.80 465.01,136.72 470.01,135.63 475.02,134.54 480.03,133.44 485.04,132.35 490.04,131.24 495.05,130.14 500.06,129.03 505.07,127.92 510.07,126.81 515.08,125.70 520.09,124.59 525.10,123.48 530.10,122.38 535.11,121.27 540.12,120.15 545.13,119.03 550.13,117.91 555.14,116.79 560.15,115.66 565.16,114.54 570.16,113.42 575.17,112.30 580.18,111.18 585.19,110.07 590.19,108.96 595.20,107.85 600.21,106.76 605.22,105.66 610.22,104.57 615.23,103.48 620.24,102.39 625.25,101.31 630.25,100.23 635.26,99.15 640.27,98.07 645.28,97.00 650.28,95.93 655.29,94.86 660.30,93.80" class="ci"/>
<polyline points="59.40,278.47 64.41,275.80 69.41,273.14 74.42,270.48 79.43,267.83 84.44,265.19 89.44,262.56 94.45,259.93 99.46,257.30 104.47,254.68 109.47,252.07 114.48,249.47 119.49,246.85 124.50,244.23 129.50,241.60 134.51,238.97 139.52,236.35 144.53,233.76 149.53,231.20 154.54,228.67 159.55,226.20 164.56,223.78 169.56,221.38 174.57,218.99 179.58,216.67 184.59,214.44 189.59,212.36 194.60,210.44 199.61,208.60 204.62,206.70 209.62,204.74 214.63,202.75 219.64,200.75 224.65,198.74 229.65,196.75 234.66,194.78 239.67,192.77 244.68,190.78 249.68,188.85 254.69,187.07 259.70,185.50 264.71,184.21 269.71,183.09 274.72,182.05 279.73,180.99 284.74,179.94 289.74,178.97 294.75,178.06 299.76,177.14 304.77,176.23 309.77,175.33 314.78,174.45 319.79,173.60 324.80,172.77 329.80,171.98 334.81,171.23 339.82,170.51 344.83,169.84 349.83,169.19 354.84,168.57 359.85,167.98 364.86,167.40 369.86,166.85 374.87,166.30 379.88,165.77 384.89,165.25 389.89,164.74 394.90,164.22 399.91,163.71 404.92,163.21 409.92,162.74 414.93,162.29 419.94,161.86 424.95,161.46 429.95,161.06 434.96,160.68 439.97,160.30 444.98,159.93 449.98,159.56 454.99,159.18 460.00,158.80 465.01,158.42 470.01,158.04 475.02,157.66 480.03,157.29 485.04,156.93 490.04,156.57 495.05,156.21 500.06,155.85 505.07,155.50 510.07,155.15 515.08,154.81 520.09,154.47 525.10,154.13 530.10,153.79 535.11,153.46 540.12,153.14 545.13,152.82 550.13,152.50 555.14,152.19 560.15,151.88 565.16,151.57 570.16,151.26 575.17,150.95 580.18,150.64 585.19,150.32 590.19,150.01 595.20,149.69 600.21,149.36 605.22,149.04 610.22,148.71 615.23,148.38 620.24,148.06 625.25,147.73 630.25,147.40 635.26,147.07 640.27,146.73 645.28,146.40 650.28,146.07 655.29,145.74 660.30,145.40" class="ci"/>
<polyline points="59.40,251.87 64.41,250.18 69.41,248.50 74.42,246.81 79.43,245.12 84.44,243.43 89.44,241.74 94.45,240.05 99.46,238.36 104.47,236.67 109.47,234.98 114.48,233.28 119.49,231.58 124.50,229.87 129.50,228.17 134.51,226.46 139.52,224.75 144.53,223.05 149.53,221.35 154.54,219.66 159.55,217.98 164.56,216.31 169.56,214.66 174.57,213.01 179.58,211.38 184.59,209.75 189.59,208.13 194.60,206.53 199.61,204.93 204.62,203.28 209.62,201.61 214.63,199.91 219.64,198.21 224.65,196.51 229.65,194.82 234.66,193.15 239.67,191.51 244.68,189.89 249.68,188.29 254.69,186.72 259.70,185.18 264.71,183.68 269.71,182.18 274.72,180.68 279.73,179.21 284.74,177.77 289.74,176.39 294.75,175.08 299.76,173.86 304.77,172.71 309.77,171.61 314.78,170.55 319.79,169.54 324.80,168.56 329.80,167.63 334.81,166.72 339.82,165.85 344.83,165.01 349.83,164.21 354.84,163.45 359.85,162.71 364.86,161.99 369.86,161.29 374.87,160.60 379.88,159.91 384.89,159.23 389.89,158.53 394.90,157.83 399.91,157.11 404.92,156.38 409.92,155.65 414.93,154.92 419.94,154.18 424.95,153.45 429.95,152.71 434.96,151.97 439.97,151.24 444.98,150.50 449.98,149.77 454.99,149.03 460.00,148.30 465.01,147.57 470.01,146.83 475.02,146.10 480.03,145.37 485.04,144.64 490.04,143.90 495.05,143.17 500.06,142.44 505.07,141.71 510.07,140.98 515.08,140.26 520.09,139.53 525.10,138.81 530.10,138.08 535.11,137.36 540.12,136.64 545.13,135.92 550.13,135.21 555.14,134.49 560.15,133.77 565.16,133.05 570.16,132.34 575.17,131.62 580.18,130.91 585.19,130.19 590.19,129.48 595.20,128.77 600.21,128.06 605.22,127.35 610.22,126.64 615.23,125.93 620.24,125.22 625.25,124.52 630.25,123.81 635.26,123.11 640.27,122.40 645.28,121.70 650.28,121.00 655.29,120.30 660.30,119.60" class="ln"/>
<path d="M36.2,0.0 V373.0 H685" class="ax"/>
<line x1="31.1" x2="36.2" y1="14.30" y2="14.30" class="tk"/>
<text x="26.8" y="17.70" class="yl">10.0</text>
<line x1="31.1" x2="36.2" y1="66.23" y2="66.23" class="tk"/>
<text x="26.8" y="69.63" class="yl">5.0</text>
<line x1="31.1" x2="36.2" y1="134.87" y2="134.87" class="tk"/>
<text x="26.8" y="138.27" class="yl">2.0</text>
<line x1="31.1" x2="36.2" y1="186.80" y2="186.80" class="tk"/>
<text x="26.8" y="190.20" class="yl">1.0</text>
<line x1="31.1" x2="36.2" y1="238.73" y2="238.73" class="tk"/>
<text x="26.8" y="242.13" class="yl">0.5</text>
<line x1="31.1" x2="36.2" y1="307.37" y2="307.37" class="tk"/>
<text x="26.8" y="310.77" class="yl">0.2</text>
<line x1="31.1" x2="36.2" y1="359.30" y2="359.30" class="tk"/>
<text x="26.8" y="362.70" class="yl">0.1</text>
<line x1="123.40" x2="123.40" y1="373.0" y2="377.8" class="tk"/>
<text x="123.40" y="389.9" class="xl">150</text>
<line x1="218.84" x2="218.84" y1="373.0" y2="377.8" class="tk"/>
<text x="218.84" y="389.9" class="xl">200</text>
<line x1="314.28" x2="314.28" y1="373.0" y2="377.8" class="tk"/>
<text x="314.28" y="389.9" class="xl">250</text>
<line x1="409.72" x2="409.72" y1="373.0" y2="377.8" class="tk"/>
<text x="409.72" y="389.9" class="xl">300</text>
<line x1="505.16" x2="505.16" y1="373.0" y2="377.8" class="tk"/>
<text x="505.16" y="389.9" class="xl">350</text>
<line x1="600.60" x2="600.60" y1="373.0" y2="377.8" class="tk"/>
<text x="600.60" y="389.9" class="xl">400</text>
<text x="345.0" y="408.8" class="xt" textLength="27.2" lengthAdjust="spacingAndGlyphs">TyG-BM</text>
<rect x="371.5" y="403.2" width="3.4" height="5.6" fill="#a8a8a8"/>
<text transform="translate(5.45,187) rotate(-90)" class="yt">Hazard Ratio</text>
<text x="201.5" y="16.2" class="pt">P for non&#8722;linearity: 0.007</text>
<text x="600.0" y="17.8" class="tt">Prediabetes to Diabetes</text>
</g>
</svg></body></html>
